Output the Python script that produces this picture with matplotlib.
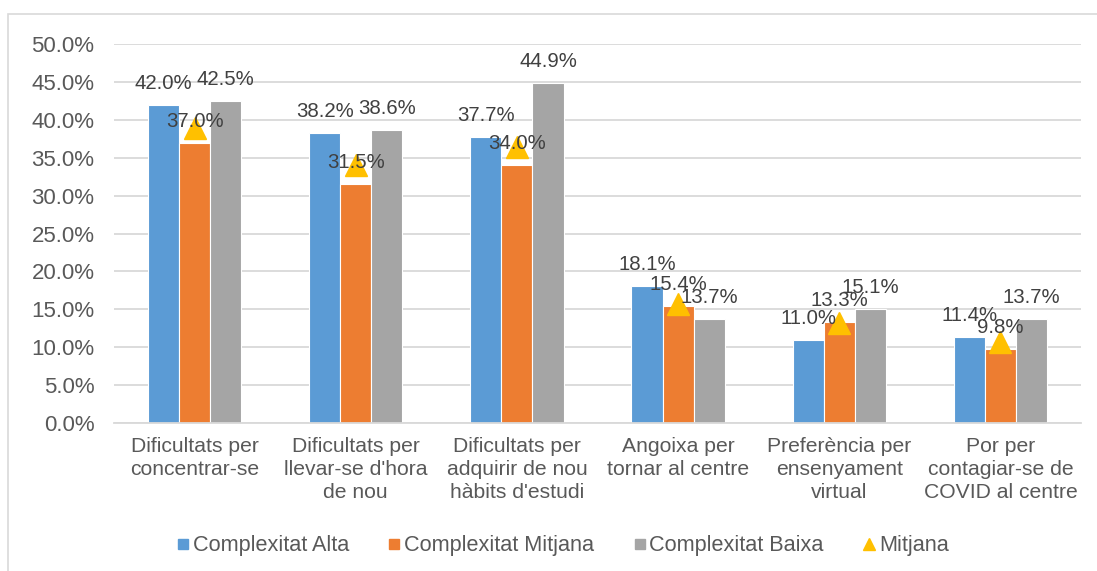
import matplotlib
matplotlib.use("Agg")
import matplotlib.pyplot as plt
import numpy as np
from matplotlib.patches import Rectangle
from matplotlib.lines import Line2D

plt.rcParams['font.family'] = ['Liberation Sans', 'DejaVu Sans']

categories = ["Dificultats per\nconcentrar-se", "Dificultats per\nllevar-se d'hora\nde nou",
              "Dificultats per\nadquirir de nou\nhàbits d'estudi", "Angoixa per\ntornar al centre",
              "Preferència per\nensenyament\nvirtual", "Por per\ncontagiar-se de\nCOVID al centre"]
alta = [42.0, 38.2, 37.7, 18.1, 11.0, 11.4]
mitjana_c = [37.0, 31.5, 34.0, 15.4, 13.3, 9.8]
baixa = [42.5, 38.6, 44.9, 13.7, 15.1, 13.7]
mitjana = [38.9, 34.0, 36.4, 15.7, 13.2, 10.7]
yticks = [0, 5, 10, 15, 20, 25, 30, 35, 40, 45, 50]

c_alta = "#5B9BD5"
c_mit = "#ED7D31"
c_baixa = "#A5A5A5"
c_mean = "#FFC000"
txt = "#404040"
tick_c = "#595959"

W, H = 1097, 571
fig = plt.figure(figsize=(W/100, H/100), dpi=100)
ax = fig.add_axes([114/W, 1-423/H, (1081-114)/W, (423-44)/H])

x = np.arange(len(categories))
bw = 0.193
series = [(alta, c_alta, -bw), (mitjana_c, c_mit, 0), (baixa, c_baixa, bw)]
for vals, col, off in series:
    ax.bar(x + off, vals, width=bw, color=col, edgecolor='white', linewidth=0.8, zorder=2)
    for xi, v in zip(x + off, vals):
        ax.annotate(f"{v:.1f}%", (xi, v), xytext=(0, 11.5), textcoords='offset points',
                    ha='center', va='baseline', fontsize=14.7, color=txt, zorder=5)

ax.plot(x, mitjana, linestyle='none', marker='^', markersize=16, color=c_mean,
        markeredgecolor=c_mean, zorder=4)

ax.set_xlim(-0.5, len(categories) - 0.5)
ax.set_ylim(0, 50)
ax.set_yticks(yticks)
ax.set_yticklabels([f"{t:.1f}%" for t in yticks], fontsize=16, color=tick_c)
ax.set_xticks(x)
ax.set_xticklabels(categories, fontsize=15.2, color=tick_c, linespacing=1.28)
ax.tick_params(axis='y', length=0, pad=14)
ax.tick_params(axis='x', length=0, pad=10)
ax.yaxis.grid(True, color="#D9D9D9", linewidth=1.3, zorder=0)
ax.set_axisbelow(True)
for s in ['top', 'right', 'left']:
    ax.spines[s].set_visible(False)
ax.spines['bottom'].set_color("#D9D9D9")
ax.spines['bottom'].set_linewidth(1.3)

# chart border
fig.patches.append(Rectangle((8/W, -0.01), 1.2, 1 - 14/H + 0.01, transform=fig.transFigure,
                             fill=False, edgecolor="#D9D9D9", linewidth=1.2))

handles = [
    Line2D([], [], marker='s', linestyle='none', color=c_alta, markersize=7.5),
    Line2D([], [], marker='s', linestyle='none', color=c_mit, markersize=7.5),
    Line2D([], [], marker='s', linestyle='none', color=c_baixa, markersize=7.5),
    Line2D([], [], marker='^', linestyle='none', color=c_mean, markersize=9),
]
labels = ["Complexitat Alta", "Complexitat Mitjana", "Complexitat Baixa", "Mitjana"]
fig.legend(handles, labels, loc='center', bbox_to_anchor=(563/W, 1-546/H), ncol=4,
           frameon=False, fontsize=15.6, handlelength=0.5, handletextpad=0.2,
           columnspacing=1.85, labelcolor=tick_c)

fig.savefig("out.png", dpi=100)
